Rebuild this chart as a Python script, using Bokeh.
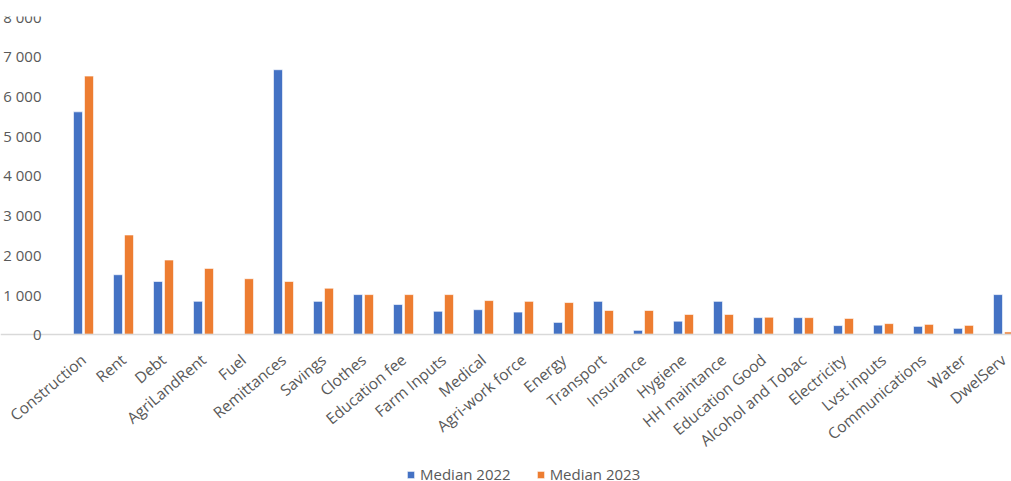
import math
from bokeh.plotting import figure
from bokeh.models import (ColumnDataSource, Range1d, FixedTicker, Legend, LegendItem)
from bokeh.transform import dodge
from bokeh.embed import file_html
from bokeh.resources import INLINE

categories = ["Construction", "Rent", "Debt", "AgriLandRent", "Fuel", "Remittances",
              "Savings", "Clothes", "Education fee", "Farm Inputs", "Medical",
              "Agri-work force", "Energy", "Transport", "Insurance", "Hygiene",
              "HH maintance", "Education Good", "Alcohol and Tobac", "Electricity",
              "Lvst inputs", "Communications", "Water", "DwelServ"]
median_2022 = [5600, 1500, 1330, 830, 0, 6660, 830, 1000, 750, 580, 620, 560,
               300, 830, 100, 330, 830, 420, 420, 220, 230, 200, 150, 1000]
median_2023 = [6500, 2500, 1870, 1660, 1400, 1330, 1160, 1000, 1000, 1000, 850, 830,
               800, 600, 600, 500, 500, 430, 420, 400, 270, 250, 225, 60]
y_ticks = [0, 1000, 2000, 3000, 4000, 5000, 6000, 7000, 8000]
y_tick_labels = ["0", "1 000", "2 000", "3 000", "4 000", "5 000", "6 000", "7 000", "8 000"]
series_names = ["Median 2022", "Median 2023"]

FONT = "Open Sans"
GREY = "#595959"
BLUE = "#4472C4"
ORANGE = "#ED7D31"

xpos = [i + 0.5 for i in range(len(categories))]
src = ColumnDataSource(dict(x=xpos, cat=categories, m22=median_2022, m23=median_2023))

# the frame covers the whole canvas so that axis labels and legend sit inside it
p = figure(output_backend="svg", toolbar_location=None,
           frame_width=1011, frame_height=470,
           x_range=Range1d(-1.575, 23.7), y_range=Range1d(-3830, 8000),
           min_border_left=0, min_border_right=0, min_border_top=16, min_border_bottom=0,
           outline_line_color=None, background_fill_color="white")

r1 = p.vbar(x=dodge("x", -0.1375), top="m22", width=0.225, source=src,
            fill_color=BLUE, line_color="white", line_width=0.6)
r2 = p.vbar(x=dodge("x", 0.1375), top="m23", width=0.225, source=src,
            fill_color=ORANGE, line_color="white", line_width=0.6)

p.xgrid.visible = False
p.ygrid.visible = False

# y axis, pinned at x = 0
ya = p.yaxis[0]
ya.fixed_location = 0
ya.ticker = FixedTicker(ticks=y_ticks)
ya.major_label_overrides = {t: l for t, l in zip(y_ticks, y_tick_labels)}
ya.axis_line_color = None
ya.major_tick_line_color = None
ya.minor_tick_line_color = None
ya.major_label_standoff = 16
ya.major_label_text_font = FONT
ya.major_label_text_font_size = "15px"
ya.major_label_text_color = GREY

# x axis, pinned at y = 0
xa = p.xaxis[0]
xa.fixed_location = 0
xa.ticker = FixedTicker(ticks=xpos)
xa.major_label_overrides = {x: c for x, c in zip(xpos, categories)}
xa.axis_line_color = "#D9D9D9"
xa.axis_line_width = 1.5
xa.major_tick_line_color = None
xa.minor_tick_line_color = None
xa.major_label_orientation = math.radians(40)
xa.major_label_standoff = 17
xa.major_label_text_font = FONT
xa.major_label_text_font_size = "15.5px"
xa.major_label_text_color = GREY

legend = Legend(items=[LegendItem(label=series_names[0], renderers=[r1]),
                       LegendItem(label=series_names[1], renderers=[r2])],
                orientation="horizontal", location=(406, 2),
                border_line_color=None, background_fill_alpha=0,
                label_text_font=FONT, label_text_font_size="15px",
                label_text_color=GREY, glyph_width=9, glyph_height=9,
                label_height=14, label_standoff=5, spacing=25,
                padding=0, margin=0)
p.add_layout(legend, "center")

open("out.html", "w").write(file_html(p, INLINE))
